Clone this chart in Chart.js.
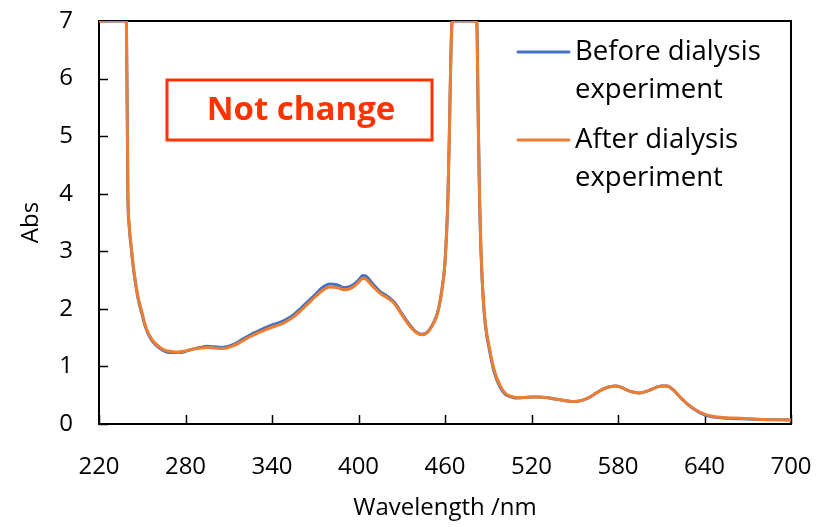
<!DOCTYPE html>
<html>
<head>
<meta charset="utf-8">
<script src="https://cdn.jsdelivr.net/npm/chart.js@4"></script>
<style>
  body { margin: 0; background: #fff; }
  canvas { display: block; }
</style>
</head>
<body>
<canvas id="absChart" width="822" height="527"></canvas>
<script>
// wavelengths (nm) and absorbance readings
const wavelength = [220, 230, 238, 239, 240, 241, 242.5, 244, 247, 250, 252, 255, 259, 265, 270, 275, 280, 285, 290, 295,
    300, 305, 310, 315, 320, 325, 330, 335, 340, 345, 350, 355, 360, 365, 370, 375, 380, 385, 390, 395,
    400, 403, 405, 410, 415, 420, 425, 430, 435, 440, 444, 448, 451, 454, 456, 458, 460, 462, 463, 464,
    465, 470, 475, 482, 483, 484, 485, 486.5, 488, 491, 494, 498, 502, 506, 510, 515, 520, 525, 530, 535,
    540, 545, 550, 555, 560, 565, 570, 575, 578, 582, 587, 591, 595, 600, 605, 610, 614, 618, 623, 628,
    635, 640, 646, 655, 665, 680, 700];

const absBefore = [7, 7, 7, 7, 4.02, 3.42, 3.02, 2.67, 2.19, 1.89, 1.70, 1.52, 1.38, 1.27, 1.24, 1.24, 1.26, 1.30, 1.33, 1.35,
    1.34, 1.33, 1.35, 1.40, 1.48, 1.55, 1.61, 1.67, 1.72, 1.76, 1.82, 1.90, 2.01, 2.13, 2.25, 2.37, 2.43, 2.42, 2.37, 2.40,
    2.50, 2.58, 2.57, 2.43, 2.30, 2.22, 2.11, 1.92, 1.74, 1.60, 1.56, 1.60, 1.71, 1.87, 2.06, 2.36, 2.82, 3.92, 5.02, 6.32,
    7, 7, 7, 7, 5.38, 3.86, 2.96, 2.16, 1.71, 1.26, 0.91, 0.65, 0.51, 0.47, 0.45, 0.46, 0.47, 0.47, 0.46, 0.44,
    0.42, 0.40, 0.39, 0.41, 0.46, 0.54, 0.61, 0.65, 0.66, 0.64, 0.58, 0.55, 0.54, 0.57, 0.62, 0.66, 0.66, 0.60, 0.47, 0.35,
    0.22, 0.16, 0.12, 0.10, 0.09, 0.08, 0.07];

const absAfter = [7, 7, 7, 7, 4.05, 3.45, 3.05, 2.70, 2.22, 1.92, 1.72, 1.54, 1.40, 1.29, 1.26, 1.25, 1.27, 1.30, 1.32, 1.33,
    1.32, 1.31, 1.33, 1.38, 1.45, 1.52, 1.58, 1.63, 1.68, 1.72, 1.78, 1.86, 1.97, 2.09, 2.21, 2.32, 2.38, 2.37, 2.33, 2.36,
    2.46, 2.53, 2.52, 2.39, 2.27, 2.19, 2.09, 1.90, 1.72, 1.59, 1.55, 1.59, 1.70, 1.86, 2.05, 2.35, 2.80, 3.90, 5.00, 6.30,
    7, 7, 7, 7, 5.40, 3.90, 3.00, 2.20, 1.75, 1.30, 0.95, 0.68, 0.53, 0.48, 0.46, 0.46, 0.47, 0.47, 0.46, 0.44,
    0.42, 0.40, 0.39, 0.41, 0.46, 0.54, 0.61, 0.65, 0.66, 0.64, 0.58, 0.55, 0.54, 0.57, 0.62, 0.66, 0.66, 0.60, 0.47, 0.35,
    0.23, 0.17, 0.13, 0.11, 0.10, 0.08, 0.07];

const seriesNames = [['Before dialysis', 'experiment'], ['After dialysis', 'experiment']];
const seriesColors = ['#4472C4', '#ED7D31'];
const xTicks = [220, 280, 340, 400, 460, 520, 580, 640, 700];
const yTicks = [0, 1, 2, 3, 4, 5, 6, 7];
const noteText = 'Not change';

const FONT = "'Open Sans', 'Noto Sans', sans-serif";

function toPoints(ys) {
    return wavelength.map((x, i) => ({ x: x, y: ys[i] }));
}

// box around the plot plus inward tick marks
const frame = {
    id: 'frame',
    beforeDatasetsDraw(chart) {
        const { ctx, chartArea: a, scales } = chart;
        ctx.save();
        ctx.strokeStyle = '#000';
        ctx.lineWidth = 2;
        ctx.strokeRect(a.left, a.top, a.right - a.left, a.bottom - a.top);
        ctx.lineWidth = 1.5;
        ctx.beginPath();
        xTicks.forEach(v => {
            const px = Math.round(scales.x.getPixelForValue(v)) + 0.5;
            ctx.moveTo(px, a.bottom);
            ctx.lineTo(px, a.bottom - 9);
        });
        yTicks.forEach(v => {
            const py = Math.round(scales.y.getPixelForValue(v)) + 0.5;
            ctx.moveTo(a.left, py);
            ctx.lineTo(a.left + 9, py);
        });
        ctx.stroke();
        ctx.restore();
    }
};

// legend with two-line labels and the red note box
const extras = {
    id: 'extras',
    afterDraw(chart) {
        const ctx = chart.ctx;
        ctx.save();
        const rows = [52, 140];
        rows.forEach((y, i) => {
            ctx.strokeStyle = seriesColors[i];
            ctx.lineWidth = 3;
            ctx.lineCap = 'round';
            ctx.beginPath();
            ctx.moveTo(518, y);
            ctx.lineTo(569, y);
            ctx.stroke();
            ctx.fillStyle = '#000';
            ctx.font = '27.5px ' + FONT;
            ctx.textBaseline = 'middle';
            ctx.textAlign = 'left';
            ctx.fillText(seriesNames[i][0], 575, y);
            ctx.fillText(seriesNames[i][1], 575, y + 38);
        });

        ctx.strokeStyle = '#FF3300';
        ctx.lineWidth = 3;
        ctx.strokeRect(167, 80, 265, 60);
        ctx.fillStyle = '#FF3300';
        ctx.font = 'bold 33px ' + FONT;
        ctx.textAlign = 'center';
        ctx.fillText(noteText, 301, 111);
        ctx.restore();
    }
};

new Chart(document.getElementById('absChart'), {
    type: 'line',
    data: {
        datasets: [{
            label: seriesNames[0].join(' '),
            data: toPoints(absBefore),
            borderColor: seriesColors[0],
            borderWidth: 3,
            pointRadius: 0,
            cubicInterpolationMode: 'monotone',
            order: 2
        }, {
            label: seriesNames[1].join(' '),
            data: toPoints(absAfter),
            borderColor: seriesColors[1],
            borderWidth: 3,
            pointRadius: 0,
            cubicInterpolationMode: 'monotone',
            order: 1
        }]
    },
    options: {
        responsive: false,
        animation: false,
        layout: { padding: { left: 0, right: 31, top: 21, bottom: 0 } },
        plugins: {
            legend: { display: false },
            tooltip: { enabled: false }
        },
        scales: {
            x: {
                type: 'linear',
                min: 220,
                max: 700,
                afterBuildTicks: (scale) => { scale.ticks = xTicks.map(v => ({ value: v })); },
                afterFit: (scale) => {
                    scale.height = 103;
                    scale.paddingLeft = 0;
                    scale.paddingRight = 0;
                },
                grid: { display: false },
                border: { display: false },
                ticks: { color: '#000', font: { family: FONT, size: 24 }, padding: 21 },
                title: {
                    display: true,
                    text: 'Wavelength /nm',
                    color: '#000',
                    font: { family: FONT, size: 24 },
                    padding: { top: 8 }
                }
            },
            y: {
                min: 0,
                max: 7,
                afterBuildTicks: (scale) => { scale.ticks = yTicks.map(v => ({ value: v })); },
                afterFit: (scale) => {
                    scale.width = 99;
                    scale.paddingTop = 0;
                    scale.paddingBottom = 0;
                },
                grid: { display: false },
                border: { display: false },
                ticks: { color: '#000', font: { family: FONT, size: 24 }, padding: 18 },
                title: {
                    display: true,
                    text: 'Abs',
                    color: '#000',
                    font: { family: FONT, size: 24 },
                    padding: { top: 17 }
                }
            }
        }
    },
    plugins: [frame, extras]
});
</script>
</body>
</html>
